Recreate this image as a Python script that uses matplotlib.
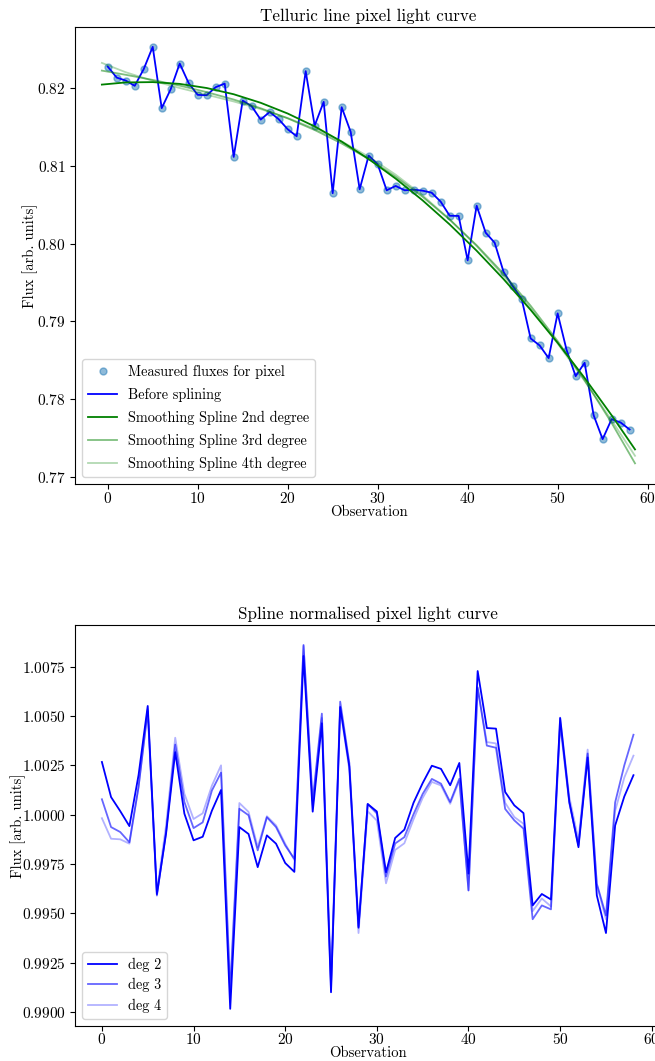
import matplotlib
matplotlib.use("Agg")
import matplotlib.pyplot as plt

plt.rcParams["font.family"] = "serif"
plt.rcParams["font.serif"] = ["cmr10", "DejaVu Serif"]
plt.rcParams["mathtext.fontset"] = "cm"
plt.rcParams["axes.formatter.use_mathtext"] = True
plt.rcParams["font.size"] = 10.5
plt.rcParams["xtick.labelsize"] = 11
plt.rcParams["ytick.labelsize"] = 11
plt.rcParams["xtick.major.pad"] = 1.5

# observation index and measured flux of the telluric pixel
obs = list(range(59))
flux = [0.82278, 0.82136, 0.82098, 0.82030, 0.82245, 0.82532, 0.81743, 0.81987,
        0.82317, 0.82064, 0.81914, 0.81910, 0.82013, 0.82059, 0.81116, 0.81840,
        0.81768, 0.81596, 0.81695, 0.81601, 0.81472, 0.81382, 0.82219, 0.81519,
        0.81824, 0.80649, 0.81755, 0.81438, 0.80700, 0.81133, 0.81022, 0.80687,
        0.80743, 0.80687, 0.80695, 0.80682, 0.80656, 0.80541, 0.80360, 0.80357,
        0.79786, 0.80489, 0.80142, 0.80013, 0.79635, 0.79456, 0.79292, 0.78782,
        0.78692, 0.78529, 0.79104, 0.78632, 0.78297, 0.78469, 0.77795, 0.77487,
        0.77744, 0.77701, 0.77611]

# smoothing spline curves
spl_x = [-0.65, 2, 5, 8, 11, 14, 17, 20, 23, 26, 29, 32, 35, 38, 41, 44, 47,
         50, 53, 56, 58.6]
spl_deg2 = [0.82046, 0.82074, 0.82078, 0.82055, 0.82002, 0.81922, 0.81812,
            0.81674, 0.81508, 0.81313, 0.81089, 0.80837, 0.80557, 0.80248,
            0.79910, 0.79544, 0.79149, 0.78726, 0.78274, 0.77794, 0.77355]
spl_deg3 = [0.82226, 0.82172, 0.82106, 0.82033, 0.81949, 0.81854, 0.81742,
            0.81612, 0.81462, 0.81289, 0.81089, 0.80861, 0.80603, 0.80310,
            0.79980, 0.79612, 0.79202, 0.78748, 0.78246, 0.77696, 0.77176]
spl_deg4 = [0.82325, 0.82205, 0.82095, 0.82002, 0.81916, 0.81829, 0.81731,
            0.81616, 0.81480, 0.81316, 0.81119, 0.80888, 0.80621, 0.80314,
            0.79969, 0.79587, 0.79169, 0.78717, 0.78235, 0.77729, 0.77273]

# flux divided by each spline
norm_deg2 = [1.00267, 1.00089, 1.00018, 0.99942, 1.00201, 1.00551, 0.99597, 0.99904,
             1.00317, 1.00005, 0.99870, 0.99888, 1.00020, 1.00125, 0.99016, 0.99937,
             0.99902, 0.99734, 0.99895, 0.99853, 0.99755, 0.99710, 1.00804, 1.00015,
             1.00463, 0.99100, 1.00546, 1.00243, 0.99427, 1.00054, 1.00016, 0.99708,
             0.99882, 0.99924, 1.00060, 1.00160, 1.00248, 1.00232, 1.00149, 1.00262,
             0.99701, 1.00728, 1.00439, 1.00436, 1.00115, 1.00047, 1.00008, 0.99540,
             0.99598, 0.99570, 1.00490, 1.00066, 0.99835, 1.00290, 0.99591, 0.99400,
             0.99945, 1.00092, 1.00200]
norm_deg3 = [1.00078, 0.99937, 0.99912, 0.99860, 1.00141, 1.00525, 0.99590, 0.99912,
             1.00355, 1.00064, 0.99932, 0.99961, 1.00122, 1.00213, 0.99098, 1.00030,
             0.99997, 0.99819, 0.99987, 0.99937, 0.99844, 0.99776, 1.00860, 1.00070,
             1.00512, 0.99140, 1.00573, 1.00261, 0.99434, 1.00054, 1.00006, 0.99686,
             0.99854, 0.99886, 1.00002, 1.00105, 1.00181, 1.00157, 1.00064, 1.00182,
             0.99616, 1.00645, 1.00350, 1.00339, 1.00029, 0.99971, 0.99929, 0.99470,
             0.99540, 0.99520, 1.00460, 1.00059, 0.99844, 1.00310, 0.99650, 0.99489,
             1.00062, 1.00250, 1.00405]
norm_deg4 = [0.99982, 0.99878, 0.99875, 0.99853, 1.00141, 1.00535, 0.99610, 0.99945,
             1.00390, 1.00106, 0.99978, 1.00007, 1.00147, 1.00250, 0.99129, 1.00059,
             1.00014, 0.99836, 0.99992, 0.99946, 0.99853, 0.99770, 1.00855, 1.00048,
             1.00490, 0.99110, 1.00540, 1.00226, 0.99400, 1.00017, 0.99970, 0.99652,
             0.99821, 0.99855, 0.99976, 1.00085, 1.00166, 1.00148, 1.00055, 1.00172,
             0.99616, 1.00639, 1.00368, 1.00361, 1.00060, 0.99988, 0.99954, 0.99511,
             0.99575, 0.99535, 1.00492, 1.00090, 0.99870, 1.00330, 0.99645, 0.99470,
             1.00019, 1.00188, 1.00299]

fig = plt.figure(figsize=(6.55, 10.61), dpi=100)
ax1 = fig.add_axes([0.115, 0.5438, 0.8957, 0.4310])
ax2 = fig.add_axes([0.115, 0.0330, 0.8927, 0.3779])

# top panel: raw light curve with the spline fits
ax1.plot(obs, flux, "o", color="tab:blue", alpha=0.5, markersize=5,
         label="Measured fluxes for pixel")
ax1.plot(obs, flux, color="blue", lw=1.3, label="Before splining")
ax1.plot(spl_x, spl_deg2, color="green", lw=1.3, label="Smoothing Spline 2nd degree")
ax1.plot(spl_x, spl_deg3, color="green", alpha=0.5, lw=1.3,
         label="Smoothing Spline 3rd degree")
ax1.plot(spl_x, spl_deg4, color="green", alpha=0.3, lw=1.3,
         label="Smoothing Spline 4th degree")
ax1.set_xlim(-3.6, 61.6)
ax1.set_ylim(0.7691, 0.8279)
ax1.set_title("Telluric line pixel light curve", fontsize=12.2, pad=4)
ax1.set_xlabel("Observation", va="top")
ax1.set_ylabel("Flux [arb. units]")
ax1.xaxis.set_label_coords(0.5, -0.047)
ax1.yaxis.set_label_coords(-0.0635, 0.5)
ax1.legend(loc="lower left", fontsize=10.3, labelspacing=0.62)

# bottom panel: normalised light curves
ax2.plot(obs, norm_deg2, color="blue", lw=1.3, label="deg 2")
ax2.plot(obs, norm_deg3, color="blue", alpha=0.6, lw=1.3, label="deg 3")
ax2.plot(obs, norm_deg4, color="blue", alpha=0.3, lw=1.3, label="deg 4")
ax2.set_xlim(-2.9, 60.9)
ax2.set_ylim(0.98929, 1.00961)
ax2.tick_params(axis="x", pad=1.0)
ax2.set_title("Spline normalised pixel light curve", fontsize=12.3, pad=4)
ax2.set_xlabel("Observation", va="top")
ax2.set_ylabel("Flux [arb. units]")
ax2.xaxis.set_label_coords(0.5, -0.05)
ax2.yaxis.set_label_coords(-0.0847, 0.5)
ax2.legend(loc="lower left", fontsize=10.3, labelspacing=0.45)

fig.savefig("out.png", dpi=100)
